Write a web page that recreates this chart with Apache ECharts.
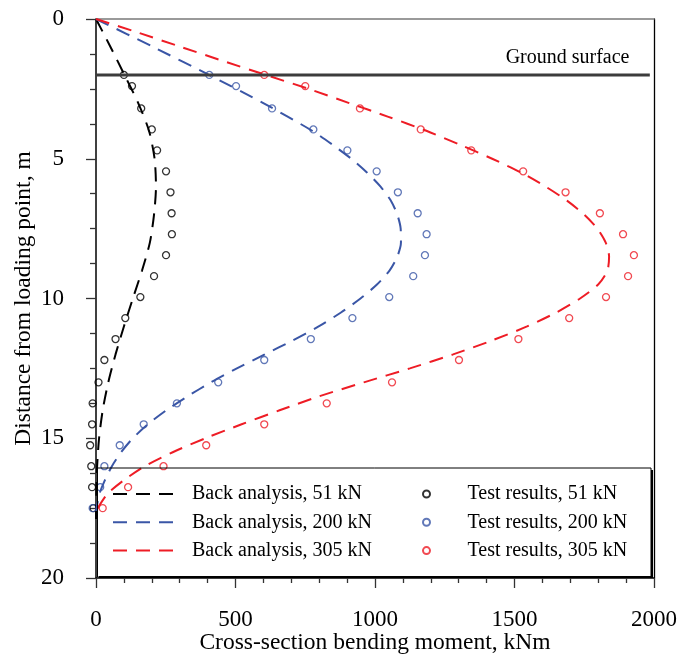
<!DOCTYPE html>
<html>
<head>
<meta charset="utf-8">
<script src="https://cdn.jsdelivr.net/npm/echarts@6.0.0/dist/echarts.min.js"></script>
<style>
  html, body { margin: 0; padding: 0; background: #fff; }
  #chart { width: 690px; height: 657px; }
</style>
</head>
<body>
<div id="chart"></div>
<script>
// Bending moment profiles along the pile (depth measured from the loading point)
const FONT = 'Liberation Serif';

// Gauge depths of the measured moments, m
const gaugeDepth = [2.0, 2.4, 3.2, 3.95, 4.7, 5.45, 6.2, 6.95, 7.7, 8.45, 9.2,
  9.95, 10.7, 11.45, 12.2, 13.0, 13.75, 14.5, 15.25, 16.0, 16.75, 17.5];

// Measured moments, kNm
const test51 = [100, 129, 162, 200, 219, 251, 267, 271, 272, 251, 208,
  159, 105, 70, 30, 9, -12, -14, -21, -17, -14, -9];
const test200 = [406, 502, 631, 779, 901, 1006, 1082, 1153, 1185, 1179, 1137,
  1051, 919, 770, 603, 438, 290, 171, 85, 30, 15, -12];
const test305 = [603, 750, 946, 1164, 1345, 1531, 1683, 1806, 1889, 1928, 1907,
  1828, 1696, 1514, 1301, 1061, 827, 603, 395, 242, 115, 24];

// Back-analysed moment profiles
const back51Depth = [0, 1, 2, 3, 4, 5, 6, 7, 8, 9, 10, 11, 12, 13, 14, 15, 16, 17, 18];
const back51 = [0, 52, 102, 151, 190, 210, 215, 208, 193, 165, 132, 100, 70, 44, 24, 11, 4, 1, 0];

const back200Depth = [0, 1, 2, 3, 4, 4.5, 5, 5.5, 6, 6.5, 7, 7.5, 8, 8.5, 9, 9.5, 10,
  10.5, 11, 11.5, 12, 12.5, 13, 13.5, 14, 14.5, 15, 15.5, 16, 16.5, 17, 17.6];
const back200 = [0, 205, 405, 598, 775, 848, 915, 972, 1020, 1057, 1080, 1092, 1093, 1080,
  1052, 1007, 948, 878, 798, 705, 605, 505, 412, 328, 252, 186, 132, 90, 57, 32, 12, 0];

const back305Depth = [0, 0.5, 1, 1.5, 2, 2.5, 3, 3.5, 4, 4.5, 5, 5.5, 6, 6.5, 7, 7.5, 8,
  8.5, 9, 9.5, 10, 10.5, 11, 11.5, 12, 12.5, 13, 13.5, 14, 14.5, 15, 15.5, 16, 16.5, 17, 17.6];
const back305 = [0, 155, 305, 455, 608, 762, 905, 1048, 1184, 1305, 1420, 1525, 1612, 1688,
  1750, 1797, 1827, 1839, 1833, 1800, 1735, 1650, 1545, 1420, 1280, 1125, 960, 800, 658,
  522, 392, 275, 175, 100, 40, 0];

// Ground surface level
const groundDepth = 2;
const groundLineEnd = 1985;

const xTicks = { min: 0, max: 2000, interval: 500 };
const yTicks = { min: 0, max: 20, interval: 5 };

const BLACK = '#000000';
const BLUE = '#3a56a6';
const RED = '#ee1c25';

function pairs(xs, ys) {
  return xs.map((x, i) => [x, ys[i]]);
}

function backSeries(name, xs, ys, color) {
  return {
    name: name,
    type: 'line',
    data: pairs(xs, ys),
    symbol: 'none',
    smooth: 0.25,
    clip: false,
    z: 3,
    lineStyle: { color: color, width: 2, type: [14, 9] },
    itemStyle: { color: color }
  };
}

function testSeries(name, xs, ys, color) {
  return {
    name: name,
    type: 'scatter',
    data: pairs(xs, ys),
    symbol: 'circle',
    symbolSize: 7,
    clip: false,
    z: 2,
    itemStyle: { color: 'rgba(255,255,255,0)', borderColor: color, borderWidth: 1.3 }
  };
}

const chart = echarts.init(document.getElementById('chart'), null, { renderer: 'canvas' });

const axisText = { fontFamily: FONT, fontSize: 23, color: '#000', formatter: v => String(v) };

chart.setOption({
  backgroundColor: '#fff',
  animation: false,
  grid: { left: 96, right: 36, top: 19, bottom: 79, outerBoundsMode: 'none', containLabel: false },
  xAxis: [{
    type: 'value',
    min: xTicks.min, max: xTicks.max, interval: xTicks.interval,
    name: 'Cross-section bending moment, kNm',
    nameLocation: 'middle',
    nameGap: 53,
    nameMoveOverlap: false,
    nameTextStyle: { fontFamily: FONT, fontSize: 23.5, color: '#000' },
    axisLine: { show: true, onZero: false, lineStyle: { color: '#000', width: 1.5 } },
    axisTick: { show: true, length: 10, lineStyle: { color: '#333', width: 1.3 } },
    minorTick: { show: true, splitNumber: 5, length: 5, lineStyle: { color: '#333', width: 1.3 } },
    axisLabel: Object.assign({ margin: 30 }, axisText),
    splitLine: { show: false }
  }, {
    type: 'value', position: 'top',
    min: xTicks.min, max: xTicks.max,
    axisLine: { show: true, onZero: false, lineStyle: { color: '#7a7a7a', width: 1.5 } },
    axisTick: { show: false }, axisLabel: { show: false }, splitLine: { show: false }
  }],
  yAxis: [{
    type: 'value',
    inverse: true,
    min: yTicks.min, max: yTicks.max, interval: yTicks.interval,
    name: 'Distance from loading point, m',
    nameLocation: 'middle',
    nameGap: 60,
    nameMoveOverlap: false,
    nameTextStyle: { fontFamily: FONT, fontSize: 23.5, color: '#000' },
    axisLine: { show: true, onZero: false, lineStyle: { color: '#000', width: 1.5 } },
    axisTick: { show: true, length: 10, lineStyle: { color: '#333', width: 1.3 } },
    minorTick: { show: true, splitNumber: 4, length: 6, lineStyle: { color: '#333', width: 1.3 } },
    axisLabel: Object.assign({ margin: 32 }, axisText),
    splitLine: { show: false }
  }, {
    type: 'value', position: 'right', inverse: true,
    min: yTicks.min, max: yTicks.max,
    axisLine: { show: true, onZero: false, lineStyle: { color: '#000', width: 1.3 } },
    axisTick: { show: false }, axisLabel: { show: false }, splitLine: { show: false }
  }],
  legend: [{
    data: ['Back analysis, 51 kN', 'Back analysis, 200 kN', 'Back analysis, 305 kN'],
    orient: 'vertical',
    left: 112, top: 484,
    padding: 0,
    itemWidth: 63, itemHeight: 14, itemGap: 8.3,
    itemStyle: { opacity: 0 },
    textStyle: { fontFamily: FONT, fontSize: 20, color: '#000', padding: [0, 0, 0, 11] }
  }, {
    data: ['Test results, 51 kN', 'Test results, 200 kN', 'Test results, 305 kN'],
    orient: 'vertical',
    left: 422, top: 484,
    padding: 0,
    itemWidth: 20, itemHeight: 7, itemGap: 8.3,
    textStyle: { fontFamily: FONT, fontSize: 20, color: '#000', padding: [0, 0, 0, 26] }
  }],
  graphic: [
    {
      type: 'rect', z: 100, silent: true,
      shape: { x: 97.5, y: 468, width: 553.5, height: 109 },
      style: { fill: 'none', stroke: '#000', lineWidth: 1 }
    },
    {
      type: 'polyline', z: 100, silent: true,
      shape: { points: [[652, 470], [652, 577], [99, 577]] },
      style: { fill: 'none', stroke: '#000', lineWidth: 2 }
    },
    {
      type: 'text', z: 100, silent: true,
      x: 629.5, y: 58,
      style: {
        text: 'Ground surface', fontFamily: FONT, fontSize: 20, fill: '#000',
        align: 'right', verticalAlign: 'middle'
      }
    }
  ],
  series: [
    {
      name: 'Ground surface',
      type: 'line',
      data: [[0, groundDepth], [groundLineEnd, groundDepth]],
      symbol: 'none',
      silent: true,
      z: 4,
      lineStyle: { color: '#3c3c3c', width: 3 }
    },
    testSeries('Test results, 51 kN', test51, gaugeDepth, BLACK),
    testSeries('Test results, 200 kN', test200, gaugeDepth, BLUE),
    testSeries('Test results, 305 kN', test305, gaugeDepth, RED),
    backSeries('Back analysis, 51 kN', back51, back51Depth, BLACK),
    backSeries('Back analysis, 200 kN', back200, back200Depth, BLUE),
    backSeries('Back analysis, 305 kN', back305, back305Depth, RED)
  ]
});
</script>
</body>
</html>
